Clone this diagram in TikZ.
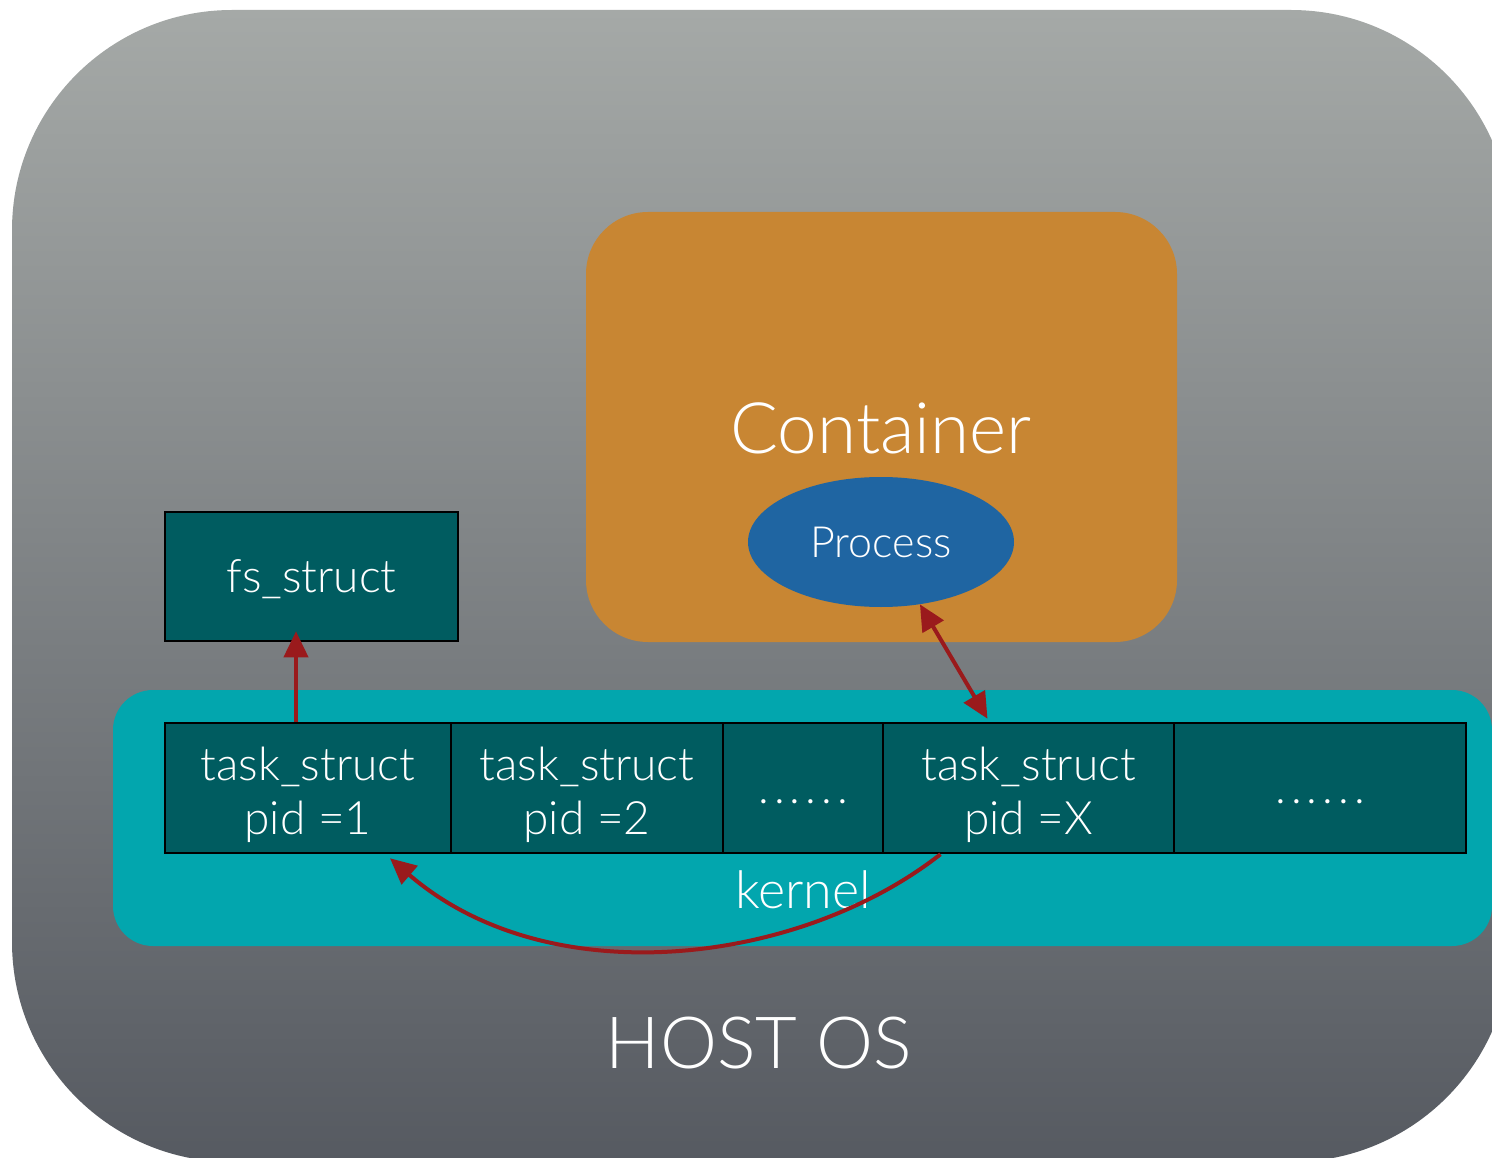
\documentclass[tikz,border=0pt]{standalone}
\usepackage{fontspec}
\setmainfont{Lato Light}
\usetikzlibrary{arrows.meta,shapes.geometric}
\definecolor{hosttop}{HTML}{A5A9A7}
\definecolor{hostbot}{HTML}{565A61}
\definecolor{contorange}{HTML}{C88633}
\definecolor{procblue}{HTML}{1F65A2}
\definecolor{structteal}{HTML}{005C60}
\definecolor{kernelteal}{HTML}{02A6AE}
\definecolor{linkred}{HTML}{9A1A1C}
\newcommand{\fsz}[1]{\fontsize{#1}{#1}\selectfont}
\newcommand{\moredots}{\raisebox{-15pt}{.\hspace{5pt}.\hspace{5pt}.\hspace{5pt}.\hspace{5pt}.\hspace{5pt}.}}
\tikzset{
  cell/.style={draw=black, line width=2.5pt, fill=structteal, text=white,
    minimum height=130pt, inner sep=0pt, align=center,
    font=\fsz{46}, execute at begin node=\setlength{\baselineskip}{54pt}},
  flatcell/.style={cell, text height=0pt, text depth=0pt},
  label/.style={text=white, inner sep=0pt},
  link/.style={draw=linkred, line width=4pt,
    -{Triangle[length=26pt,width=24pt]}},
  dlink/.style={draw=linkred, line width=4pt,
    {Triangle[length=26pt,width=24pt]}-{Triangle[length=26pt,width=24pt]}}
}
\begin{document}
\begin{tikzpicture}[x=1pt,y=-1pt]
\useasboundingbox (0,0) rectangle (1492,1158);
\clip (0,0) rectangle (1492,1158);

% host operating system panel
\shade[top color=hosttop, bottom color=hostbot, rounded corners=220pt]
  (12,10) rectangle (1511,1162);
\node[label, font=\fsz{72}] (host) at (759,1043) {HOST OS};

% container with its process
\fill[contorange, rounded corners=62pt] (586,212) rectangle (1177,642);
\node[label, font=\fsz{71}] (cont) at (881,428) {Container};
\node[ellipse, fill=procblue, minimum width=266pt, minimum height=130pt,
  inner sep=0pt, text=white, font=\fsz{43}] (proc) at (881,542) {Process};

% kernel band
\fill[kernelteal, rounded corners=40pt] (113,690) rectangle (1492,946);
\node[label, font=\fsz{52}] (kern) at (803,890) {kernel};

% fs_struct
\node[flatcell, minimum width=293pt, minimum height=129pt]
  (fs) at (311.5,576.5) {\raisebox{-16pt}{fs\_struct}};

% task_struct table
\node[cell, minimum width=286pt] (t1) at (308,788) {\\[-6pt]task\_struct\\pid =1};
\node[cell, minimum width=272pt] (t2) at (587,788) {\\[-6pt]task\_struct\\pid =2};
\node[flatcell, minimum width=160pt] (t3) at (803,788) {\moredots};
\node[cell, minimum width=291pt] (t4) at (1028.5,788) {\\[-6pt]task\_struct\\pid =X};
\node[flatcell, minimum width=292pt] (t5) at (1320,788) {\moredots};

% links
\draw[link] ([xshift=-12pt]t1.north) -- ([xshift=-15.5pt,yshift=11pt]fs.south);
\draw[dlink] (proc.-58) -- ([xshift=-41pt,yshift=3pt]t4.north);
\draw[link] ([xshift=-88pt]t4.south)
  .. controls ([xshift=-228pt,yshift=-110pt]t4.south)
  and ([xshift=242pt,yshift=-142pt]t1.south) .. ([xshift=82pt,yshift=-4pt]t1.south);
\end{tikzpicture}
\end{document}
